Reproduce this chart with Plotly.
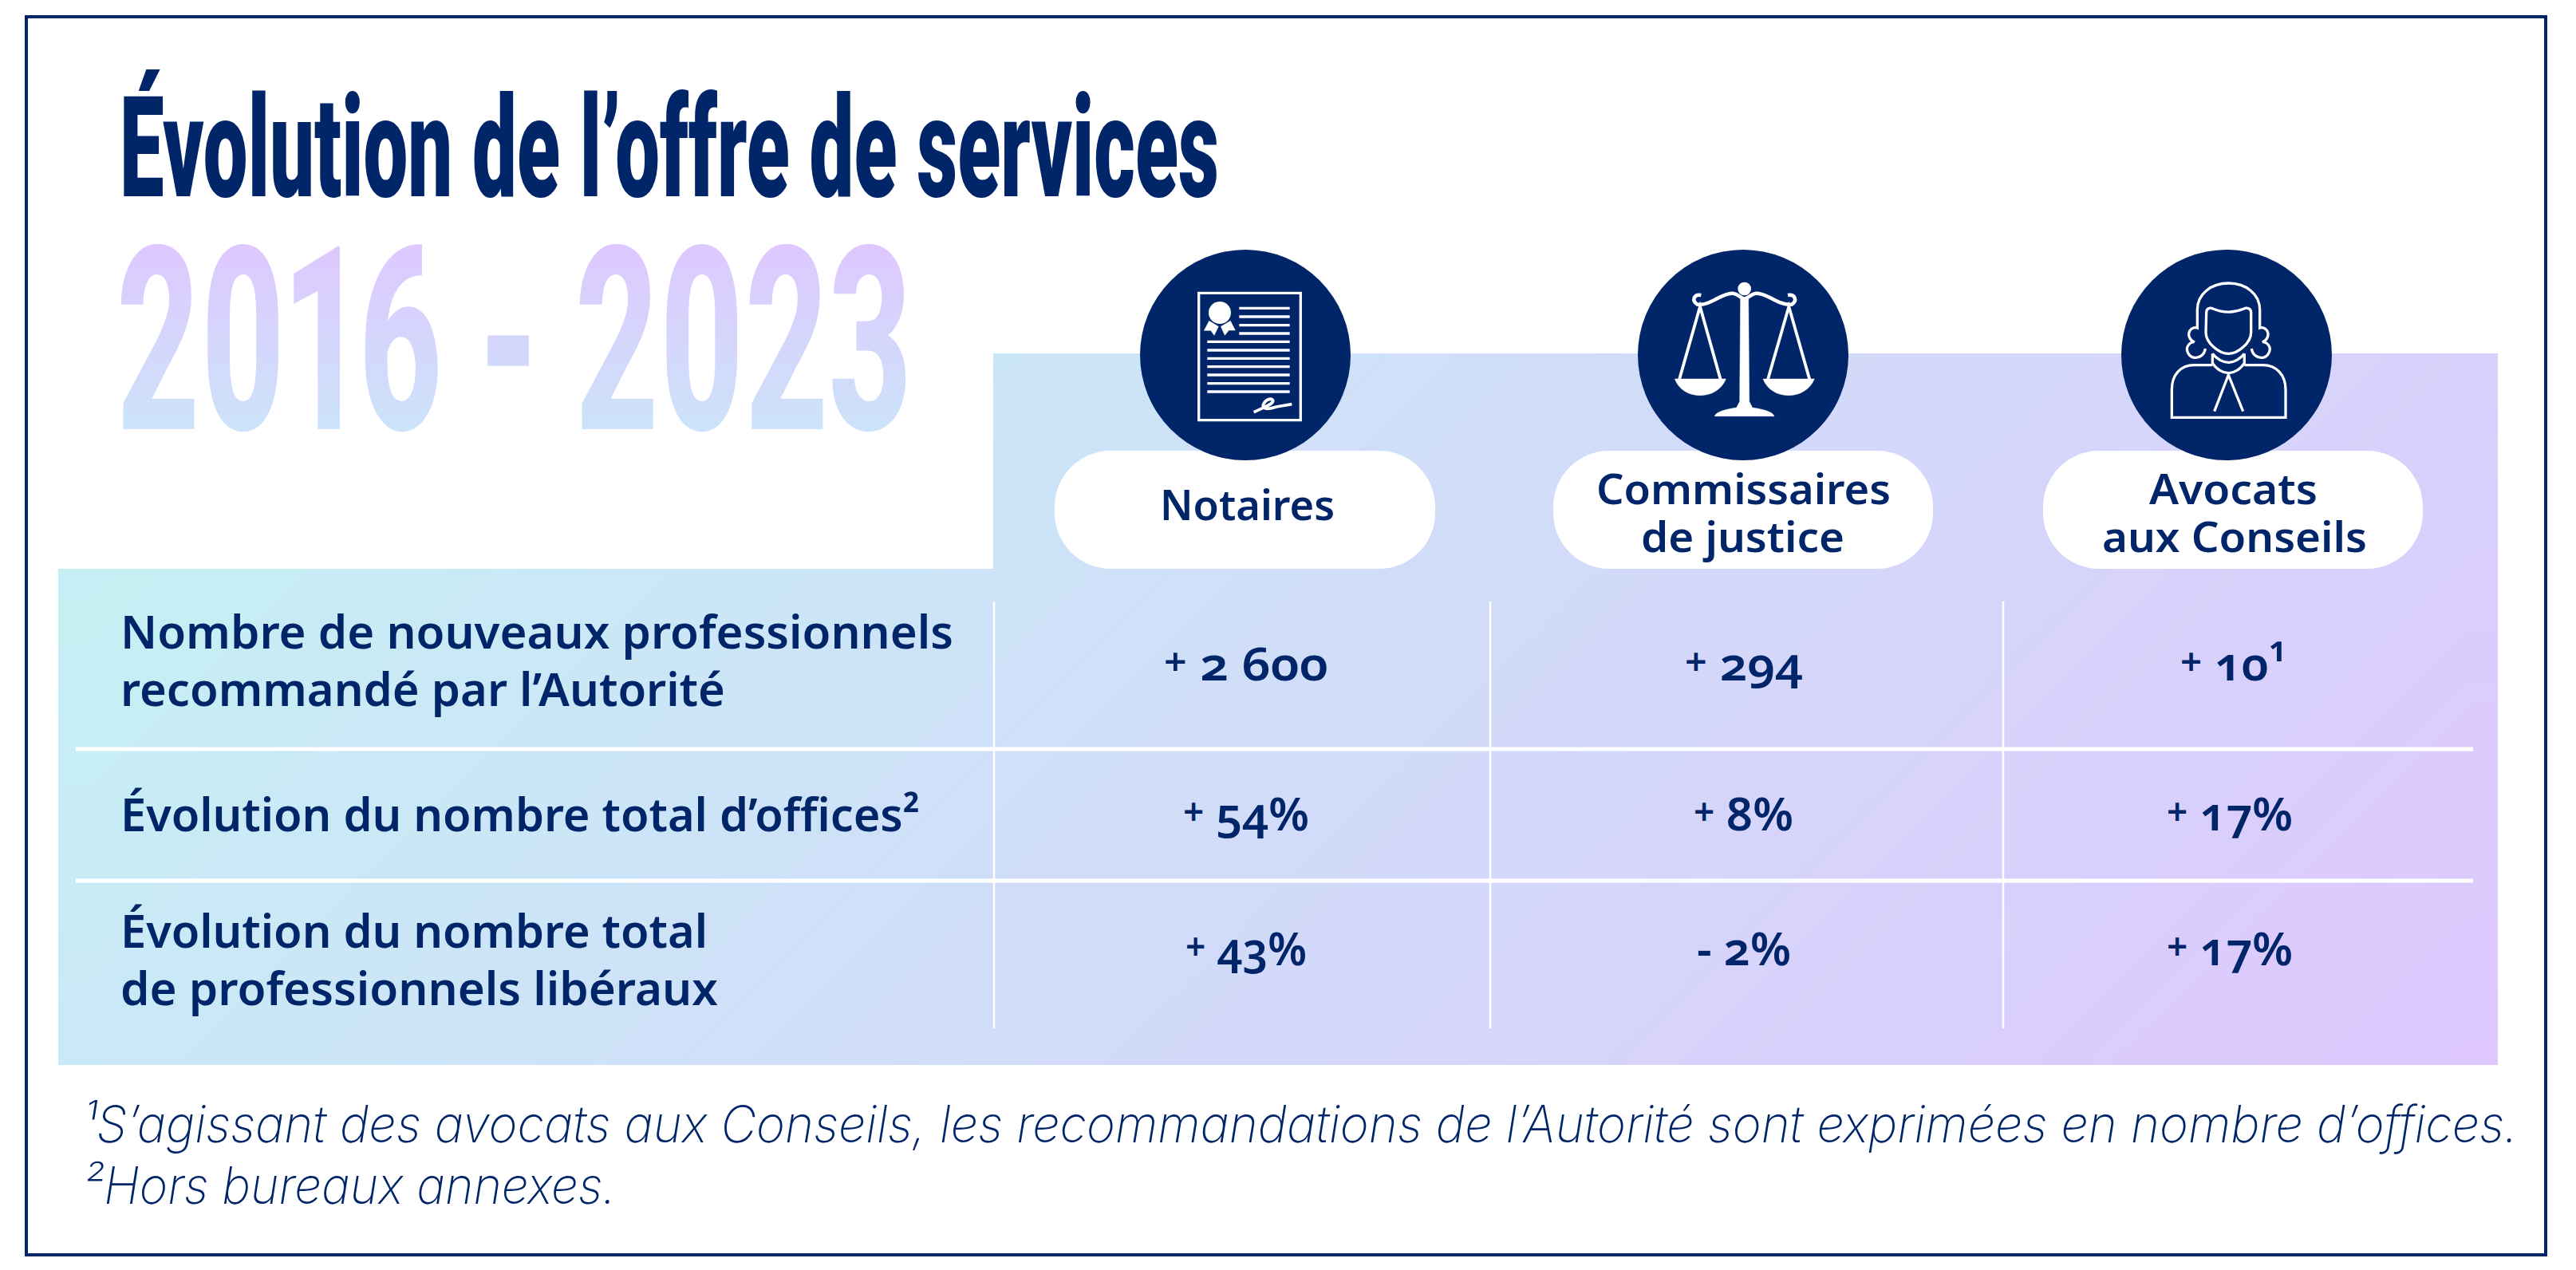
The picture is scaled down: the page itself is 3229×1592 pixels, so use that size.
import json
import re
import numpy as np
import plotly.graph_objects as go

W, H = 3229, 1592
NAVY = "#002569"

title = "Évolution de l’offre de services"
period = "2016 - 2023"
professions = [["Notaires"], ["Commissaires", "de justice"], ["Avocats", "aux Conseils"]]
row_labels = [["Nombre de nouveaux professionnels", "recommandé par l’Autorité"],
              ["Évolution du nombre total d’offices²"],
              ["Évolution du nombre total", "de professionnels libéraux"]]
nouveaux = ["+ 2 600", "+ 294", "+ 10¹"]
offices = ["+ 54%", "+ 8%", "+ 17%"]
liberaux = ["+ 43%", "- 2%", "+ 17%"]
notes = ["¹S’agissant des avocats aux Conseils, les recommandations de l’Autorité sont exprimées en nombre d’offices.",
         "²Hors bureaux annexes."]

# left edge, width, baseline of each text block, in page pixels
header_pos = [[(1454, 219, 652)],
              [(2001, 369, 632), (2057, 255, 692)],
              [(2694, 211, 632), (2635, 332, 692)]]
label_pos = [[(151, 1044, 813), (151, 758, 885)],
             [(151, 1002, 1042)],
             [(151, 736, 1188), (151, 749, 1260)]]
value_pos = [[(1459, 206, 853), (2112, 148, 853), (2733, 133, 853)],
             [(1483, 158, 1041), (2123, 125, 1041), (2716, 158, 1041)],
             [(1486, 152, 1210), (2127, 118, 1210), (2716, 158, 1210)]]
note_pos = [(104, 3052, 1432), (104, 668, 1509)]


def panel(x0, x1, y0, y1):
    xs = np.linspace(x0, x1, 41)
    ys = np.linspace(y0, y1, 41)
    cx = (xs[:-1] + xs[1:]) / 2
    cy = (ys[:-1] + ys[1:]) / 2
    return go.Heatmap(x=xs, y=ys, z=cx + cy[:, None], zmin=786, zmax=4466, zsmooth="best",
                      colorscale=[[0, "#C5F0F4"], [1, "#DEC7FE"]], showscale=False, hoverinfo="skip")


def crop(d, ox, oy):
    # paths below are noted in 3x crop coordinates
    out, is_x = [], True
    for tok in re.findall(r"-?[\d.]+|[A-Za-z]", d):
        if tok.isalpha():
            out.append(tok)
            is_x = True
        else:
            out.append(str(round(float(tok) / 3 + (ox if is_x else oy), 2)))
            is_x = not is_x
    return " ".join(out)


def pill(x0, x1, y0, y1, r=70):
    k = r * 0.45
    return (f"M {x0+r} {y0} L {x1-r} {y0} C {x1-k} {y0} {x1} {y0+k} {x1} {y0+r} L {x1} {y1-r} "
            f"C {x1} {y1-k} {x1-k} {y1} {x1-r} {y1} L {x0+r} {y1} C {x0+k} {y1} {x0} {y1-k} {x0} {y1-r} "
            f"L {x0} {y0+r} C {x0} {y0+k} {x0+k} {y0} {x0+r} {y0} Z")


fig = go.Figure()
fig.add_trace(panel(1245, 3131, 443, 713))
fig.add_trace(panel(73, 3131, 713, 1335))

shapes = [dict(type="rect", x0=33, x1=3191, y0=21, y1=1573, line=dict(color=NAVY, width=4))]


def line(x0, y0, x1, y1, w=3.3):
    shapes.append(dict(type="line", x0=x0, y0=y0, x1=x1, y1=y1, line=dict(color="white", width=w)))


def stroke(d, ox, oy, w=3.3):
    shapes.append(dict(type="path", path=crop(d, ox, oy), line=dict(color="white", width=w)))


def solid(d, ox, oy):
    shapes.append(dict(type="path", path=crop(d, ox, oy), fillcolor="white", line=dict(color="white", width=0.5)))


for y in [939, 1104]:
    line(95, y, 3100, y, 5)
for x in [1246, 1868, 2511]:
    line(x, 754, x, 1289, 2.5)
for x0, x1 in [(1322, 1799), (1947, 2423), (2561, 3037)]:
    shapes.append(dict(type="path", path=pill(x0, x1, 565, 713), fillcolor="white", line=dict(width=0)))
for cx in [1561, 2185, 2791]:
    shapes.append(dict(type="circle", x0=cx - 132, x1=cx + 132, y0=313, y1=577, fillcolor=NAVY, line=dict(width=0)))

# notaires icon
ox, oy = 1420, 305
shapes.append(dict(type="rect", x0=1502.7, x1=1630.3, y0=367.3, y1=526.7, line=dict(color="white", width=3.3)))
for zy in [244, 276, 308, 339]:
    line(ox + 400 / 3, oy + zy / 3, ox + 590 / 3, oy + zy / 3)
for zy in [370, 402, 433, 464, 495, 527, 558]:
    line(ox + 280 / 3, oy + zy / 3, ox + 590 / 3, oy + zy / 3)
shapes.append(dict(type="circle", x0=1515, x1=1543, y0=378, y1=406, fillcolor="white", line=dict(width=0)))
solid("M 287 292 L 322 313 L 306 346 L 293 328 L 268 328 Z", ox, oy)
solid("M 367 292 L 385 327 L 361 327 L 346 346 L 331 313 Z", ox, oy)
stroke("M 455 635 C 490 618 528 605 527 592 C 520 578 495 590 490 610 C 488 628 520 622 540 615 L 598 605", ox, oy, 3.8)

# balance icon
ox, oy = 2045, 305
shapes.append(dict(type="circle", x0=ox + 400 / 3, x1=ox + 450 / 3, y0=oy + 146 / 3, y1=oy + 196 / 3,
                   fillcolor="white", line=dict(width=0)))
solid("M 410 205 L 440 205 L 443 595 L 455 618 C 480 622 530 630 537 650 L 313 650 C 320 630 370 622 395 618 L 407 595 Z", ox, oy)
stroke("M 262 195 C 235 190 225 215 248 230 C 300 235 340 185 380 188 C 400 190 410 205 425 210 "
       "C 440 205 450 190 470 188 C 510 185 550 235 603 230 C 625 215 615 190 588 195", ox, oy, 4.5)
stroke("M 180 512 L 258 238 L 335 512", ox, oy, 3.8)
stroke("M 513 512 L 592 238 L 670 512", ox, oy, 3.8)
solid("M 163 510 L 355 510 C 340 550 300 572 258 572 C 215 572 178 550 163 510 Z", ox, oy)
solid("M 495 510 L 688 510 C 672 550 632 572 592 572 C 548 572 510 550 495 510 Z", ox, oy)

# avocat icon
ox, oy = 2650, 305
stroke("M 343 396 C 340 420 320 432 303 430 C 280 428 268 400 278 385 C 285 372 300 370 302 372 "
       "C 285 365 275 345 285 328 C 292 318 305 315 313 318 L 313 250 C 313 190 365 150 430 150 "
       "C 495 150 548 190 548 250 L 548 318 C 556 315 568 318 575 328 C 585 345 575 365 558 372 "
       "C 560 370 575 372 582 385 C 592 400 580 428 557 430 C 540 432 520 420 517 396", ox, oy)
stroke("M 347 260 C 347 245 360 240 372 246 C 410 262 450 262 488 246 C 500 240 515 245 515 260 L 515 335 "
       "C 515 375 465 415 430 415 C 395 415 345 375 345 335 Z", ox, oy)
stroke("M 370 415 L 370 450 C 385 475 410 488 430 488 C 450 488 475 475 490 450 L 490 415", ox, oy)
stroke("M 370 415 C 385 435 410 448 430 448 C 450 448 475 435 490 415", ox, oy)
stroke("M 370 458 L 300 458 C 250 458 217 495 217 550 L 217 655 L 645 655 L 645 550 C 645 495 610 458 560 458 L 490 458", ox, oy)
stroke("M 377 632 L 430 495 L 485 632", ox, oy)

annotations, widths = [], []


def put(text, pos, font):
    left, width, base = pos
    annotations.append(dict(text=text, x=left, y=base, xref="x", yref="y", xanchor="left", showarrow=False, font=font))
    widths.append(width)


CONDENSED = "Roboto"
BODY = "Noto Sans"
put(title, (150, 1378, 246), dict(family=CONDENSED, size=177, color=NAVY, weight=900))
put(period, (146, 997, 538), dict(family=CONDENSED, size=322, color="#D4D6FB", weight=800))
body = dict(family=BODY, size=58, color=NAVY, weight=560)
for lines, positions in zip(professions, header_pos):
    for txt, pos in zip(lines, positions):
        put(txt, pos, dict(body, size=53))
for lines, positions in zip(row_labels, label_pos):
    for txt, pos in zip(lines, positions):
        put(txt, pos, body)
n_before_values = len(annotations)
for series, positions in zip([nouveaux, offices, liberaux], value_pos):
    for txt, pos in zip(series, positions):
        put(txt.replace("+", '<span style="font-size:46px">+</span>'), pos, dict(body, size=58, weight=600))
n_after_values = len(annotations)
for txt, pos in zip(notes, note_pos):
    put(txt, pos, dict(family="Inter", size=64, color=NAVY, weight=150, style="italic"))

fig.update_layout(width=W, height=H, margin=dict(l=0, r=0, t=0, b=0), paper_bgcolor="white", plot_bgcolor="white",
                  xaxis=dict(range=[0, W], visible=False), yaxis=dict(range=[H, 0], visible=False),
                  shapes=shapes, annotations=annotations, showlegend=False)

# plotly has no condensed text or gradient fill: fit each label to its measured box afterwards
post = """
document.body.style.margin = '0';
var gd = document.getElementById('{plot_id}');
var widths = %s;
var NS = 'http://www.w3.org/2000/svg';
gd.querySelectorAll('.annotation').forEach(function (g) {
  var i = +g.getAttribute('data-index');
  var t = g.querySelector('text.annotation-text');
  var a = gd.layout.annotations[i];
  var bg = g.querySelector('rect.bg');
  if (bg) bg.remove();
  t.parentNode.removeAttribute('transform');
  t.setAttribute('text-anchor', 'start');
  t.setAttribute('x', a.x);
  t.setAttribute('y', a.y);
  t.setAttribute('textLength', widths[i]);
  t.setAttribute('lengthAdjust', 'spacingAndGlyphs');
  if (i >= %d && i < %d) {
    t.style.fontFeatureSettings = '"onum"';
    var plus = t.querySelector('tspan');
    if (plus) plus.style.baselineShift = '7px';
  }
  if (i === 1) {
    t.style.fontFeatureSettings = '"pnum"';
    var svg = t.ownerSVGElement;
    var defs = document.createElementNS(NS, 'defs');
    defs.innerHTML = '<linearGradient id="periodfill" gradientUnits="userSpaceOnUse" x1="0" y1="309" x2="0" y2="538">' +
      '<stop offset="0" stop-color="#DEC8FF"/><stop offset="1" stop-color="#CCE3F9"/></linearGradient>';
    svg.appendChild(defs);
    t.style.fill = 'url(#periodfill)';
  }
});
""" % (json.dumps(widths), n_before_values, n_after_values)

fig.write_html("out.html", post_script=post, config=dict(displayModeBar=False))
